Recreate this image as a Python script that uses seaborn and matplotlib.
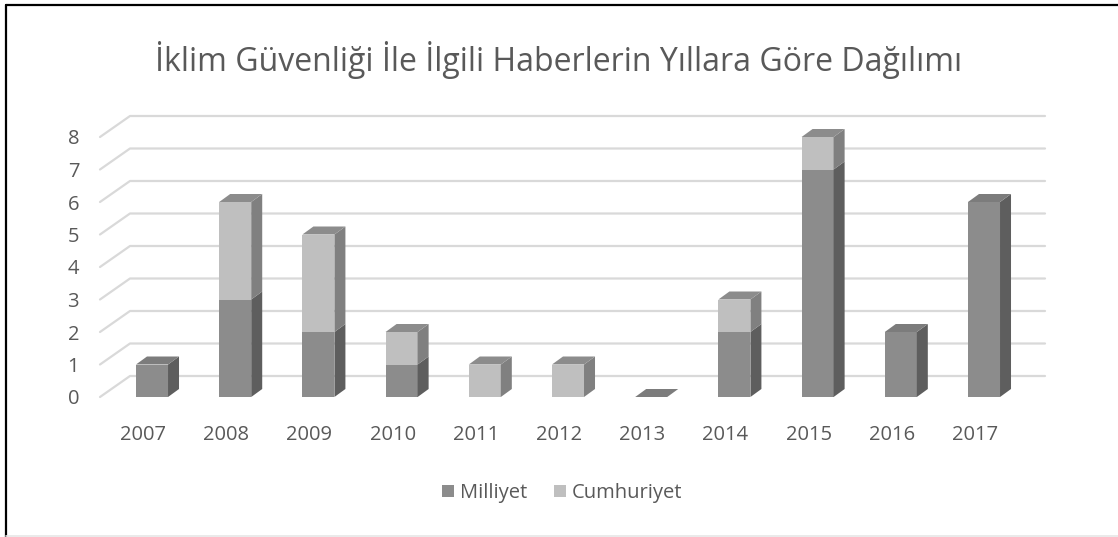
import matplotlib
matplotlib.use("Agg")
import matplotlib.pyplot as plt
import matplotlib.transforms as mtransforms
from matplotlib.patches import Polygon, Patch
from matplotlib.lines import Line2D
import seaborn as sns
import pandas as pd

years = ["2007", "2008", "2009", "2010", "2011", "2012", "2013", "2014", "2015", "2016", "2017"]
milliyet = [1, 3, 2, 1, 0, 0, 0, 2, 7, 2, 6]
cumhuriyet = [0, 3, 3, 1, 1, 1, 0, 1, 1, 0, 0]
yticks = [0, 1, 2, 3, 4, 5, 6, 7, 8]
title = "İklim Güvenliği İle İlgili Haberlerin Yıllara Göre Dağılımı"

# colours: front, side, top
m_col = ("#8c8c8c", "#5e5e5e", "#7c7c7c")
c_col = ("#bfbfbf", "#808080", "#8c8c8c")
text_col = "#595959"
grid_col = "#d9d9d9"

sns.set_theme(style="white")
plt.rcParams["font.family"] = ["Open Sans", "DejaVu Sans"]

W, H = 1118, 537
fig = plt.figure(figsize=(W / 100, H / 100), dpi=100)
# axes box in pixels: front plane of the 3d chart
left_px, right_px, top_px, bot_px = 100, 1045, 137, 397
ax = fig.add_axes([left_px / W, 1 - bot_px / H, (right_px - left_px) / W, (bot_px - top_px) / H])

df = pd.DataFrame({"year": years, "Milliyet": milliyet, "Cumhuriyet": cumhuriyet})
sns.barplot(data=df, x="year", y="Milliyet", color=m_col[0], width=0.385,
            saturation=1, linewidth=0, ax=ax)
n_m = len(ax.patches)
sns.barplot(data=df, x="year", y="Cumhuriyet", color=c_col[0], width=0.385,
            saturation=1, linewidth=0, bottom=df["Milliyet"], ax=ax)

px_per_x = 83.2
x0 = -(152 - left_px) / px_per_x
x1 = x0 + (right_px - left_px) / px_per_x
ax.set_xlim(x0, x1)
ax.set_ylim(0, 8)
px_per_y = (bot_px - top_px) / 8.0

# bar depth in data units
bdx, bdy = 11 / px_per_x, 8 / px_per_y
patches = list(ax.patches)
for i, p in enumerate(patches):
    cols = m_col if i < n_m else c_col
    xa, ya = p.get_x(), p.get_y()
    xb, yb = xa + p.get_width(), ya + p.get_height()
    p.set_zorder(3)
    p.set_clip_on(False)
    if p.get_height() > 0:
        ax.add_patch(Polygon([(xb, ya), (xb + bdx, ya + bdy), (xb + bdx, yb + bdy), (xb, yb)],
                             closed=True, fc=cols[1], ec="none", zorder=3, clip_on=False))
# top faces on top of each stack
for k in range(len(years)):
    pm = patches[k]
    top = milliyet[k] + cumhuriyet[k]
    cols = c_col if cumhuriyet[k] > 0 else m_col
    xa, xb = pm.get_x(), pm.get_x() + pm.get_width()
    ax.add_patch(Polygon([(xa, top), (xb, top), (xb + bdx, top + bdy), (xa + bdx, top + bdy)],
                         closed=True, fc=cols[2], ec="none", zorder=3, clip_on=False))

# back wall gridlines
gdx, gdy = 30 / px_per_x, 21 / px_per_y
for v in yticks:
    ax.add_line(Line2D([x0, x0 + gdx, x1], [v, v + gdy, v + gdy], color=grid_col,
                       lw=1.6, zorder=1, clip_on=False))

for s in ax.spines.values():
    s.set_visible(False)
ax.set_xlabel("")
ax.set_ylabel("")
ax.set_yticks(yticks)
ax.tick_params(axis="both", length=0, labelsize=14.5, colors=text_col)
ax.tick_params(axis="y", pad=15)
ax.tick_params(axis="x", pad=20)
shift = mtransforms.ScaledTranslation(-9 / 100, 0, fig.dpi_scale_trans)
for lab in ax.get_xticklabels():
    lab.set_transform(lab.get_transform() + shift)

fig.text(0.5, 1 - 60 / H, title, ha="center", va="center", fontsize=23, color=text_col)

handles = [Patch(fc=m_col[0], ec="none", label="Milliyet"),
           Patch(fc=c_col[0], ec="none", label="Cumhuriyet")]
fig.legend(handles=handles, loc="center", bbox_to_anchor=(0.503, 1 - 493 / H), ncol=2,
           frameon=False, fontsize=14.5, handlelength=0.6, handleheight=0.6,
           handletextpad=0.3, columnspacing=1.3, labelcolor=text_col)

# frame of the original image
fig.add_artist(Line2D([6 / W, 6 / W], [0, 1 - 5 / H], color="black", lw=1.6))
fig.add_artist(Line2D([6 / W, 1], [1 - 5 / H, 1 - 5 / H], color="black", lw=1.6))
fig.add_artist(Line2D([6 / W, 1], [1 / H, 1 / H], color="#e6e6e6", lw=1.2))

fig.savefig("out.png", dpi=100, facecolor="white")
